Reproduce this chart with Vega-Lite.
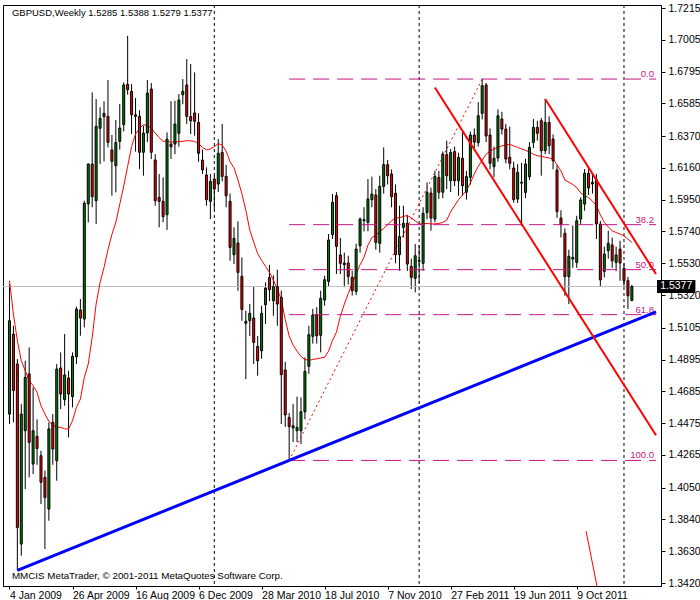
{
  "$schema": "https://vega.github.io/schema/vega-lite/v6.json",
  "width": 658,
  "height": 581,
  "padding": {"left": 2, "top": 2, "right": 0, "bottom": 0},
  "background": "white",
  "config": {
    "view": {"stroke": "black", "strokeWidth": 1},
    "font": "Liberation Sans",
    "axis": {"labelFont": "Liberation Sans", "labelFontSize": 10.5, "labelColor": "black", "domainColor": "black", "tickColor": "black", "grid": false, "title": null, "labelOverlap": false}
  },
  "datasets": {
    "candles": [
      {"d":"2009-01-04","o":1.4535,"h":1.5393,"l":1.4470,"c":1.5151,"ma":1.5415},
      {"d":"2009-01-11","o":1.5063,"h":1.5118,"l":1.4480,"c":1.4690,"ma":1.5195},
      {"d":"2009-01-18","o":1.4865,"h":1.4898,"l":1.3502,"c":1.3787,"ma":1.5019},
      {"d":"2009-01-25","o":1.3677,"h":1.4600,"l":1.3600,"c":1.4535,"ma":1.4887},
      {"d":"2009-02-01","o":1.4425,"h":1.4887,"l":1.4040,"c":1.4777,"ma":1.4821},
      {"d":"2009-02-08","o":1.4800,"h":1.4975,"l":1.4117,"c":1.4348,"ma":1.4755},
      {"d":"2009-02-15","o":1.4205,"h":1.4711,"l":1.4139,"c":1.4425,"ma":1.4722},
      {"d":"2009-02-22","o":1.4388,"h":1.4500,"l":1.4200,"c":1.4308,"ma":1.4678},
      {"d":"2009-03-01","o":1.4260,"h":1.4293,"l":1.3941,"c":1.4085,"ma":1.4590},
      {"d":"2009-03-08","o":1.4117,"h":1.4161,"l":1.3644,"c":1.3985,"ma":1.4535},
      {"d":"2009-03-15","o":1.3908,"h":1.4480,"l":1.3831,"c":1.4437,"ma":1.4487},
      {"d":"2009-03-22","o":1.4480,"h":1.4535,"l":1.4200,"c":1.4304,"ma":1.4463},
      {"d":"2009-03-29","o":1.4227,"h":1.4865,"l":1.4095,"c":1.4832,"ma":1.4448},
      {"d":"2009-04-05","o":1.4839,"h":1.4942,"l":1.4568,"c":1.4667,"ma":1.4448},
      {"d":"2009-04-12","o":1.4630,"h":1.5063,"l":1.4590,"c":1.4793,"ma":1.4437},
      {"d":"2009-04-19","o":1.4773,"h":1.4821,"l":1.4381,"c":1.4667,"ma":1.4436},
      {"d":"2009-04-26","o":1.4650,"h":1.4942,"l":1.4579,"c":1.4916,"ma":1.4491},
      {"d":"2009-05-03","o":1.4914,"h":1.5244,"l":1.4865,"c":1.5228,"ma":1.4580},
      {"d":"2009-05-10","o":1.5222,"h":1.5294,"l":1.5052,"c":1.5169,"ma":1.4634},
      {"d":"2009-05-17","o":1.5162,"h":1.5943,"l":1.5107,"c":1.5926,"ma":1.4777},
      {"d":"2009-05-24","o":1.5922,"h":1.6190,"l":1.5800,"c":1.6185,"ma":1.4865},
      {"d":"2009-05-31","o":1.6185,"h":1.6658,"l":1.5900,"c":1.5970,"ma":1.5041},
      {"d":"2009-06-07","o":1.5943,"h":1.6614,"l":1.5790,"c":1.6434,"ma":1.5261},
      {"d":"2009-06-14","o":1.6421,"h":1.6559,"l":1.6185,"c":1.6487,"ma":1.5404},
      {"d":"2009-06-21","o":1.6498,"h":1.6599,"l":1.6203,"c":1.6520,"ma":1.5503},
      {"d":"2009-06-28","o":1.6500,"h":1.6740,"l":1.6295,"c":1.6328,"ma":1.5620},
      {"d":"2009-07-05","o":1.6278,"h":1.6377,"l":1.5976,"c":1.6203,"ma":1.5720},
      {"d":"2009-07-12","o":1.6174,"h":1.6476,"l":1.5998,"c":1.6328,"ma":1.5800},
      {"d":"2009-07-19","o":1.6335,"h":1.6581,"l":1.6280,"c":1.6423,"ma":1.5920},
      {"d":"2009-07-26","o":1.6445,"h":1.6724,"l":1.6400,"c":1.6707,"ma":1.6040},
      {"d":"2009-08-02","o":1.6711,"h":1.7032,"l":1.6643,"c":1.6676,"ma":1.6170},
      {"d":"2009-08-09","o":1.6665,"h":1.6713,"l":1.6383,"c":1.6511,"ma":1.6300},
      {"d":"2009-08-16","o":1.6500,"h":1.6621,"l":1.6267,"c":1.6510,"ma":1.6383},
      {"d":"2009-08-23","o":1.6500,"h":1.6540,"l":1.6152,"c":1.6263,"ma":1.6420},
      {"d":"2009-08-30","o":1.6263,"h":1.6438,"l":1.6108,"c":1.6390,"ma":1.6445},
      {"d":"2009-09-06","o":1.6390,"h":1.6740,"l":1.6330,"c":1.6654,"ma":1.6440},
      {"d":"2009-09-13","o":1.6680,"h":1.6720,"l":1.6218,"c":1.6263,"ma":1.6420},
      {"d":"2009-09-20","o":1.6212,"h":1.6250,"l":1.5910,"c":1.5943,"ma":1.6390},
      {"d":"2009-09-27","o":1.5965,"h":1.6119,"l":1.5767,"c":1.5939,"ma":1.6360},
      {"d":"2009-10-04","o":1.5939,"h":1.6097,"l":1.5800,"c":1.5838,"ma":1.6335},
      {"d":"2009-10-11","o":1.5851,"h":1.6394,"l":1.5750,"c":1.6350,"ma":1.6335},
      {"d":"2009-10-18","o":1.6317,"h":1.6600,"l":1.6219,"c":1.6299,"ma":1.6330},
      {"d":"2009-10-25","o":1.6317,"h":1.6603,"l":1.6250,"c":1.6449,"ma":1.6330},
      {"d":"2009-11-01","o":1.6388,"h":1.6647,"l":1.6300,"c":1.6608,"ma":1.6333},
      {"d":"2009-11-08","o":1.6643,"h":1.6746,"l":1.6580,"c":1.6665,"ma":1.6335},
      {"d":"2009-11-15","o":1.6707,"h":1.6878,"l":1.6450,"c":1.6500,"ma":1.6340},
      {"d":"2009-11-22","o":1.6498,"h":1.6845,"l":1.6383,"c":1.6471,"ma":1.6338},
      {"d":"2009-11-29","o":1.6522,"h":1.6790,"l":1.6372,"c":1.6467,"ma":1.6335},
      {"d":"2009-12-06","o":1.6460,"h":1.6520,"l":1.6200,"c":1.6256,"ma":1.6320},
      {"d":"2009-12-13","o":1.6212,"h":1.6280,"l":1.6119,"c":1.6146,"ma":1.6295},
      {"d":"2009-12-20","o":1.6113,"h":1.6163,"l":1.5910,"c":1.5950,"ma":1.6280},
      {"d":"2009-12-27","o":1.5939,"h":1.6120,"l":1.5822,"c":1.6071,"ma":1.6285},
      {"d":"2010-01-03","o":1.6086,"h":1.6108,"l":1.5888,"c":1.6020,"ma":1.6300},
      {"d":"2010-01-10","o":1.6053,"h":1.6350,"l":1.6000,"c":1.6256,"ma":1.6320},
      {"d":"2010-01-17","o":1.6262,"h":1.6450,"l":1.6071,"c":1.6104,"ma":1.6310},
      {"d":"2010-01-24","o":1.6104,"h":1.6180,"l":1.5900,"c":1.5976,"ma":1.6270},
      {"d":"2010-01-31","o":1.5939,"h":1.5990,"l":1.5547,"c":1.5635,"ma":1.6200},
      {"d":"2010-02-07","o":1.5587,"h":1.5767,"l":1.5525,"c":1.5695,"ma":1.6160},
      {"d":"2010-02-14","o":1.5664,"h":1.5807,"l":1.5349,"c":1.5470,"ma":1.6080},
      {"d":"2010-02-21","o":1.5444,"h":1.5569,"l":1.5151,"c":1.5226,"ma":1.5990},
      {"d":"2010-02-28","o":1.5147,"h":1.5217,"l":1.4766,"c":1.5134,"ma":1.5880},
      {"d":"2010-03-07","o":1.5151,"h":1.5261,"l":1.5050,"c":1.5200,"ma":1.5750},
      {"d":"2010-03-14","o":1.5169,"h":1.5378,"l":1.4865,"c":1.5008,"ma":1.5670},
      {"d":"2010-03-21","o":1.4982,"h":1.5050,"l":1.4788,"c":1.4887,"ma":1.5595},
      {"d":"2010-03-28","o":1.4953,"h":1.5250,"l":1.4900,"c":1.5200,"ma":1.5550},
      {"d":"2010-04-04","o":1.5257,"h":1.5404,"l":1.5129,"c":1.5367,"ma":1.5510},
      {"d":"2010-04-11","o":1.5437,"h":1.5519,"l":1.5280,"c":1.5356,"ma":1.5470},
      {"d":"2010-04-18","o":1.5283,"h":1.5450,"l":1.5184,"c":1.5376,"ma":1.5420},
      {"d":"2010-04-25","o":1.5376,"h":1.5488,"l":1.5118,"c":1.5261,"ma":1.5360},
      {"d":"2010-05-02","o":1.5305,"h":1.5350,"l":1.4469,"c":1.4795,"ma":1.5290},
      {"d":"2010-05-09","o":1.4826,"h":1.4880,"l":1.4450,"c":1.4529,"ma":1.5160},
      {"d":"2010-05-16","o":1.4513,"h":1.4542,"l":1.4229,"c":1.4452,"ma":1.5050},
      {"d":"2010-05-23","o":1.4443,"h":1.4601,"l":1.4350,"c":1.4458,"ma":1.4990},
      {"d":"2010-05-30","o":1.4425,"h":1.4650,"l":1.4350,"c":1.4447,"ma":1.4950},
      {"d":"2010-06-06","o":1.4425,"h":1.4645,"l":1.4337,"c":1.4550,"ma":1.4915},
      {"d":"2010-06-13","o":1.4550,"h":1.4909,"l":1.4500,"c":1.4817,"ma":1.4895},
      {"d":"2010-06-20","o":1.4850,"h":1.5118,"l":1.4800,"c":1.5059,"ma":1.4890},
      {"d":"2010-06-27","o":1.5048,"h":1.5229,"l":1.5000,"c":1.5189,"ma":1.4895},
      {"d":"2010-07-04","o":1.5189,"h":1.5240,"l":1.5000,"c":1.5052,"ma":1.4900},
      {"d":"2010-07-11","o":1.5055,"h":1.5349,"l":1.4942,"c":1.5299,"ma":1.4905},
      {"d":"2010-07-18","o":1.5288,"h":1.5448,"l":1.5250,"c":1.5422,"ma":1.4910},
      {"d":"2010-07-25","o":1.5411,"h":1.5723,"l":1.5380,"c":1.5684,"ma":1.4950},
      {"d":"2010-08-01","o":1.5719,"h":1.5987,"l":1.5690,"c":1.5932,"ma":1.5020},
      {"d":"2010-08-08","o":1.5976,"h":1.6000,"l":1.5459,"c":1.5642,"ma":1.5075},
      {"d":"2010-08-15","o":1.5585,"h":1.5697,"l":1.5459,"c":1.5530,"ma":1.5180},
      {"d":"2010-08-22","o":1.5532,"h":1.5600,"l":1.5372,"c":1.5521,"ma":1.5260},
      {"d":"2010-08-29","o":1.5532,"h":1.5580,"l":1.5390,"c":1.5442,"ma":1.5330},
      {"d":"2010-09-05","o":1.5437,"h":1.5480,"l":1.5317,"c":1.5349,"ma":1.5400},
      {"d":"2010-09-12","o":1.5345,"h":1.5660,"l":1.5320,"c":1.5624,"ma":1.5460},
      {"d":"2010-09-19","o":1.5646,"h":1.5833,"l":1.5600,"c":1.5822,"ma":1.5520},
      {"d":"2010-09-26","o":1.5811,"h":1.5900,"l":1.5740,"c":1.5818,"ma":1.5570},
      {"d":"2010-10-03","o":1.5800,"h":1.6086,"l":1.5741,"c":1.5954,"ma":1.5650},
      {"d":"2010-10-10","o":1.5950,"h":1.6102,"l":1.5900,"c":1.5987,"ma":1.5700},
      {"d":"2010-10-17","o":1.5981,"h":1.6020,"l":1.5620,"c":1.5668,"ma":1.5715},
      {"d":"2010-10-24","o":1.5662,"h":1.6108,"l":1.5600,"c":1.6038,"ma":1.5740},
      {"d":"2010-10-31","o":1.6038,"h":1.6295,"l":1.5990,"c":1.6181,"ma":1.5760},
      {"d":"2010-11-07","o":1.6181,"h":1.6212,"l":1.6050,"c":1.6108,"ma":1.5785},
      {"d":"2010-11-14","o":1.6119,"h":1.6150,"l":1.5900,"c":1.5970,"ma":1.5810},
      {"d":"2010-11-21","o":1.5992,"h":1.6050,"l":1.5530,"c":1.5587,"ma":1.5830},
      {"d":"2010-11-28","o":1.5587,"h":1.5910,"l":1.5481,"c":1.5706,"ma":1.5830},
      {"d":"2010-12-05","o":1.5767,"h":1.5910,"l":1.5700,"c":1.5794,"ma":1.5840},
      {"d":"2010-12-12","o":1.5794,"h":1.5850,"l":1.5480,"c":1.5525,"ma":1.5845},
      {"d":"2010-12-19","o":1.5510,"h":1.5560,"l":1.5360,"c":1.5437,"ma":1.5830},
      {"d":"2010-12-26","o":1.5431,"h":1.5657,"l":1.5338,"c":1.5580,"ma":1.5810},
      {"d":"2011-01-02","o":1.5548,"h":1.5650,"l":1.5400,"c":1.5543,"ma":1.5790},
      {"d":"2011-01-09","o":1.5530,"h":1.5900,"l":1.5480,"c":1.5860,"ma":1.5790},
      {"d":"2011-01-16","o":1.5864,"h":1.6064,"l":1.5820,"c":1.5999,"ma":1.5793},
      {"d":"2011-01-23","o":1.5994,"h":1.6030,"l":1.5745,"c":1.5829,"ma":1.5790},
      {"d":"2011-01-30","o":1.5822,"h":1.6141,"l":1.5800,"c":1.6104,"ma":1.5790},
      {"d":"2011-02-06","o":1.6097,"h":1.6141,"l":1.5955,"c":1.5999,"ma":1.5793},
      {"d":"2011-02-13","o":1.5999,"h":1.6268,"l":1.5960,"c":1.6251,"ma":1.5800},
      {"d":"2011-02-20","o":1.6247,"h":1.6339,"l":1.6020,"c":1.6108,"ma":1.5815},
      {"d":"2011-02-27","o":1.6075,"h":1.6284,"l":1.6000,"c":1.6262,"ma":1.5870},
      {"d":"2011-03-06","o":1.6267,"h":1.6300,"l":1.6040,"c":1.6075,"ma":1.5910},
      {"d":"2011-03-13","o":1.6075,"h":1.6260,"l":1.5976,"c":1.6229,"ma":1.5950},
      {"d":"2011-03-20","o":1.6223,"h":1.6400,"l":1.5976,"c":1.6042,"ma":1.5980},
      {"d":"2011-03-27","o":1.5999,"h":1.6140,"l":1.5950,"c":1.6102,"ma":1.6010},
      {"d":"2011-04-03","o":1.6097,"h":1.6400,"l":1.6050,"c":1.6377,"ma":1.6060},
      {"d":"2011-04-10","o":1.6377,"h":1.6420,"l":1.6290,"c":1.6330,"ma":1.6120},
      {"d":"2011-04-17","o":1.6326,"h":1.6593,"l":1.6300,"c":1.6504,"ma":1.6170},
      {"d":"2011-04-24","o":1.6520,"h":1.6746,"l":1.6480,"c":1.6702,"ma":1.6210},
      {"d":"2011-05-01","o":1.6707,"h":1.6720,"l":1.6330,"c":1.6370,"ma":1.6250},
      {"d":"2011-05-08","o":1.6377,"h":1.6420,"l":1.6150,"c":1.6190,"ma":1.6270},
      {"d":"2011-05-15","o":1.6168,"h":1.6300,"l":1.6097,"c":1.6223,"ma":1.6285},
      {"d":"2011-05-22","o":1.6225,"h":1.6546,"l":1.6200,"c":1.6504,"ma":1.6295},
      {"d":"2011-05-29","o":1.6482,"h":1.6530,"l":1.6380,"c":1.6416,"ma":1.6305},
      {"d":"2011-06-05","o":1.6416,"h":1.6450,"l":1.6190,"c":1.6218,"ma":1.6310},
      {"d":"2011-06-12","o":1.6230,"h":1.6432,"l":1.6150,"c":1.6190,"ma":1.6315},
      {"d":"2011-06-19","o":1.6159,"h":1.6200,"l":1.5930,"c":1.5950,"ma":1.6305},
      {"d":"2011-06-26","o":1.5954,"h":1.6185,"l":1.5928,"c":1.6130,"ma":1.6295},
      {"d":"2011-07-03","o":1.6059,"h":1.6192,"l":1.5778,"c":1.6065,"ma":1.6285},
      {"d":"2011-07-10","o":1.5998,"h":1.6220,"l":1.5960,"c":1.6185,"ma":1.6275},
      {"d":"2011-07-17","o":1.6102,"h":1.6330,"l":1.6080,"c":1.6295,"ma":1.6265},
      {"d":"2011-07-24","o":1.6328,"h":1.6482,"l":1.6290,"c":1.6427,"ma":1.6250},
      {"d":"2011-07-31","o":1.6427,"h":1.6471,"l":1.6340,"c":1.6388,"ma":1.6240},
      {"d":"2011-08-07","o":1.6471,"h":1.6490,"l":1.6108,"c":1.6273,"ma":1.6235},
      {"d":"2011-08-14","o":1.6273,"h":1.6614,"l":1.6250,"c":1.6460,"ma":1.6230},
      {"d":"2011-08-21","o":1.6460,"h":1.6500,"l":1.6250,"c":1.6306,"ma":1.6225},
      {"d":"2011-08-28","o":1.6350,"h":1.6380,"l":1.6150,"c":1.6207,"ma":1.6218},
      {"d":"2011-09-04","o":1.6146,"h":1.6180,"l":1.5830,"c":1.5871,"ma":1.6180},
      {"d":"2011-09-11","o":1.5829,"h":1.5880,"l":1.5701,"c":1.5785,"ma":1.6140},
      {"d":"2011-09-18","o":1.5728,"h":1.5760,"l":1.5316,"c":1.5442,"ma":1.6080},
      {"d":"2011-09-25","o":1.5442,"h":1.5620,"l":1.5261,"c":1.5576,"ma":1.6065},
      {"d":"2011-10-02","o":1.5558,"h":1.5779,"l":1.5500,"c":1.5569,"ma":1.6050},
      {"d":"2011-10-09","o":1.5536,"h":1.5844,"l":1.5500,"c":1.5811,"ma":1.6030},
      {"d":"2011-10-16","o":1.5822,"h":1.5965,"l":1.5790,"c":1.5948,"ma":1.5995},
      {"d":"2011-10-23","o":1.5921,"h":1.6152,"l":1.5877,"c":1.6124,"ma":1.5975},
      {"d":"2011-10-30","o":1.6124,"h":1.6152,"l":1.5980,"c":1.6027,"ma":1.5965},
      {"d":"2011-11-06","o":1.6054,"h":1.6120,"l":1.5990,"c":1.6065,"ma":1.5940},
      {"d":"2011-11-13","o":1.6082,"h":1.6120,"l":1.5690,"c":1.5789,"ma":1.5910},
      {"d":"2011-11-20","o":1.5789,"h":1.5810,"l":1.5380,"c":1.5420,"ma":1.5850},
      {"d":"2011-11-27","o":1.5477,"h":1.5640,"l":1.5437,"c":1.5591,"ma":1.5800},
      {"d":"2011-12-04","o":1.5613,"h":1.5745,"l":1.5560,"c":1.5662,"ma":1.5770},
      {"d":"2011-12-11","o":1.5651,"h":1.5700,"l":1.5500,"c":1.5547,"ma":1.5745},
      {"d":"2011-12-18","o":1.5536,"h":1.5640,"l":1.5480,"c":1.5585,"ma":1.5733},
      {"d":"2011-12-25","o":1.5624,"h":1.5679,"l":1.5415,"c":1.5532,"ma":1.5723},
      {"d":"2012-01-01","o":1.5497,"h":1.5530,"l":1.5380,"c":1.5415,"ma":1.5710},
      {"d":"2012-01-08","o":1.5415,"h":1.5440,"l":1.5228,"c":1.5316,"ma":1.5690},
      {"d":"2012-01-15","o":1.5285,"h":1.5388,"l":1.5279,"c":1.5377,"ma":1.5668}
    ],
    "seps": [{"d":"2010-01-03"},{"d":"2011-01-02"},{"d":"2012-01-01"}],
    "fib": [
      {"lv":"0.0","p":1.6746,"s":"2010-05-16","e":"2012-02-26T21:00:00Z"},
      {"lv":"38.2","p":1.5785,"s":"2010-05-16","e":"2012-02-26T21:00:00Z"},
      {"lv":"50.0","p":1.5488,"s":"2010-05-16","e":"2012-02-26T21:00:00Z"},
      {"lv":"61.8","p":1.5191,"s":"2010-05-16","e":"2012-02-26T21:00:00Z"},
      {"lv":"100.0","p":1.4229,"s":"2010-05-16","e":"2012-02-26T21:00:00Z"}
    ],
    "lines": [
      {"id":"support","d":"2009-01-18","p":1.3503},
      {"id":"support","d":"2012-02-26T21:00:00Z","p":1.5209},
      {"id":"channelA","d":"2011-01-30","p":1.6690},
      {"id":"channelA","d":"2012-02-26T21:00:00Z","p":1.4395},
      {"id":"channelB","d":"2011-08-14","p":1.6614},
      {"id":"channelB","d":"2012-02-26T21:00:00Z","p":1.5459},
      {"id":"fibo","d":"2010-05-16","p":1.4229},
      {"id":"fibo","d":"2011-04-24","p":1.6746},
      {"id":"small","d":"2011-10-25T15:00:00Z","p":1.3763},
      {"id":"small","d":"2011-11-13T21:00:00Z","p":1.3401}
    ],
    "notes": [{"t":"GBPUSD,Weekly  1.5285 1.5388 1.5279 1.5377"}],
    "credit": [{"t":"MMCIS MetaTrader, © 2001-2011 MetaQuotes Software Corp."}],
    "bid": [{"price": 1.5377, "label": "1.5377"}]
  },
  "layer": [
    {
      "data": {"name": "seps"},
      "mark": {"type": "rule", "color": "black", "strokeWidth": 1, "strokeDash": [3, 3]},
      "encoding": {
        "x": {
          "field": "d", "type": "temporal",
          "scale": {"type": "utc", "domain": [{"year": 2009, "month": 1, "date": 1, "hours": 9, "utc": true}, {"year": 2012, "month": 2, "date": 26, "hours": 21, "utc": true}], "nice": false},
          "axis": {
            "orient": "bottom",
            "values": [
              {"year": 2009, "month": 1, "date": 4, "utc": true},
              {"year": 2009, "month": 4, "date": 26, "utc": true},
              {"year": 2009, "month": 8, "date": 16, "utc": true},
              {"year": 2009, "month": 12, "date": 6, "utc": true},
              {"year": 2010, "month": 3, "date": 28, "utc": true},
              {"year": 2010, "month": 7, "date": 18, "utc": true},
              {"year": 2010, "month": 11, "date": 7, "utc": true},
              {"year": 2011, "month": 2, "date": 27, "utc": true},
              {"year": 2011, "month": 6, "date": 19, "utc": true},
              {"year": 2011, "month": 10, "date": 9, "utc": true}
            ],
            "tickCount": 40,
            "format": "%-d %b %Y",
            "labelAlign": "left",
            "labelBaseline": "top",
            "tickSize": 3,
            "labelPadding": 1,
            "labelOverlap": false,
            "labelFlush": false
          }
        }
      }
    },
    {
      "data": {"name": "candles"},
      "mark": {"type": "rule", "color": "black", "strokeWidth": 1},
      "encoding": {
        "x": {"field": "d", "type": "temporal"},
        "y": {
          "field": "l", "type": "quantitative",
          "scale": {"domain": [1.34002, 1.72348], "nice": false, "zero": false},
          "axis": {
            "orient": "right",
            "values": [1.7215, 1.7005, 1.6795, 1.6585, 1.637, 1.616, 1.595, 1.574, 1.553, 1.532, 1.5105, 1.4895, 1.4685, 1.4475, 1.4265, 1.405, 1.384, 1.363, 1.342],
            "tickCount": 40,
            "format": ".4f",
            "labelOverlap": false,
            "labelFlush": false,
            "labelBound": false,
            "labelBaseline": "middle",
            "tickSize": 4,
            "labelPadding": 3
          }
        },
        "y2": {"field": "h"}
      }
    },
    {
      "data": {"name": "bid"},
      "mark": {"type": "rule", "color": "#C0C0C0", "strokeWidth": 1},
      "encoding": {"y": {"field": "price", "type": "quantitative"}}
    },
    {
      "data": {"name": "candles"},
      "mark": {"type": "line", "color": "#FF0000", "strokeWidth": 1},
      "encoding": {
        "x": {"field": "d", "type": "temporal"},
        "y": {"field": "ma", "type": "quantitative"}
      }
    },
    {
      "data": {"name": "candles"},
      "mark": {"type": "bar", "size": 2, "stroke": "black", "strokeWidth": 1},
      "encoding": {
        "x": {"field": "d", "type": "temporal"},
        "y": {"field": "o", "type": "quantitative"},
        "y2": {"field": "c"},
        "fill": {"condition": {"test": "datum.c >= datum.o", "value": "#008000"}, "value": "#FF0000"}
      }
    },
    {
      "data": {"name": "fib"},
      "mark": {"type": "rule", "color": "#C71585", "strokeWidth": 1, "strokeDash": [16, 8]},
      "encoding": {
        "x": {"field": "s", "type": "temporal"},
        "x2": {"field": "e"},
        "y": {"field": "p", "type": "quantitative"}
      }
    },
    {
      "data": {"name": "fib"},
      "mark": {"type": "text", "color": "#C71585", "align": "right", "baseline": "bottom", "dx": -2, "dy": 0, "fontSize": 9.5, "font": "Liberation Sans"},
      "encoding": {
        "x": {"field": "e", "type": "temporal"},
        "y": {"field": "p", "type": "quantitative"},
        "text": {"field": "lv"}
      }
    },
    {
      "data": {"name": "lines"},
      "transform": [{"filter": "datum.id == 'fibo'"}],
      "mark": {"type": "line", "color": "#FF0000", "strokeWidth": 1, "strokeDash": [2, 3], "clip": true},
      "encoding": {"x": {"field": "d", "type": "temporal"}, "y": {"field": "p", "type": "quantitative"}, "detail": {"field": "id"}}
    },
    {
      "data": {"name": "lines"},
      "transform": [{"filter": "datum.id == 'support'"}],
      "mark": {"type": "line", "color": "#0000FF", "strokeWidth": 3, "clip": true},
      "encoding": {"x": {"field": "d", "type": "temporal"}, "y": {"field": "p", "type": "quantitative"}, "detail": {"field": "id"}}
    },
    {
      "data": {"name": "lines"},
      "transform": [{"filter": "datum.id == 'channelA' || datum.id == 'channelB'"}],
      "mark": {"type": "line", "color": "#FF0000", "strokeWidth": 2, "clip": true},
      "encoding": {"x": {"field": "d", "type": "temporal"}, "y": {"field": "p", "type": "quantitative"}, "detail": {"field": "id"}}
    },
    {
      "data": {"name": "lines"},
      "transform": [{"filter": "datum.id == 'small'"}],
      "mark": {"type": "line", "color": "#FF0000", "strokeWidth": 1, "clip": true},
      "encoding": {"x": {"field": "d", "type": "temporal"}, "y": {"field": "p", "type": "quantitative"}, "detail": {"field": "id"}}
    },
    {
      "data": {"name": "bid"},
      "mark": {"type": "rect", "color": "black"},
      "encoding": {
        "x": {"datum": 1330441200000, "type": "temporal"},
        "x2": {"datum": 1336338000000},
        "y": {"datum": 1.5420, "type": "quantitative"},
        "y2": {"datum": 1.5334}
      }
    },
    {
      "data": {"name": "bid"},
      "mark": {"type": "text", "color": "white", "align": "center", "baseline": "middle", "fontSize": 10.5, "font": "Liberation Sans"},
      "encoding": {
        "x": {"datum": 1333389600000, "type": "temporal"},
        "y": {"field": "price", "type": "quantitative"},
        "text": {"field": "label"}
      }
    },
    {
      "data": {"name": "notes"},
      "mark": {"type": "text", "align": "left", "baseline": "middle", "fontSize": 9.5, "font": "Liberation Sans", "color": "black"},
      "encoding": {
        "x": {"datum": 1231405200000, "type": "temporal"},
        "y": {"datum": 1.7182, "type": "quantitative"},
        "text": {"field": "t"}
      }
    },
    {
      "data": {"name": "credit"},
      "mark": {"type": "text", "align": "left", "baseline": "middle", "fontSize": 9.8, "font": "Liberation Sans", "color": "black"},
      "encoding": {
        "x": {"datum": 1231405200000, "type": "temporal"},
        "y": {"datum": 1.3466, "type": "quantitative"},
        "text": {"field": "t"}
      }
    }
  ]
}
